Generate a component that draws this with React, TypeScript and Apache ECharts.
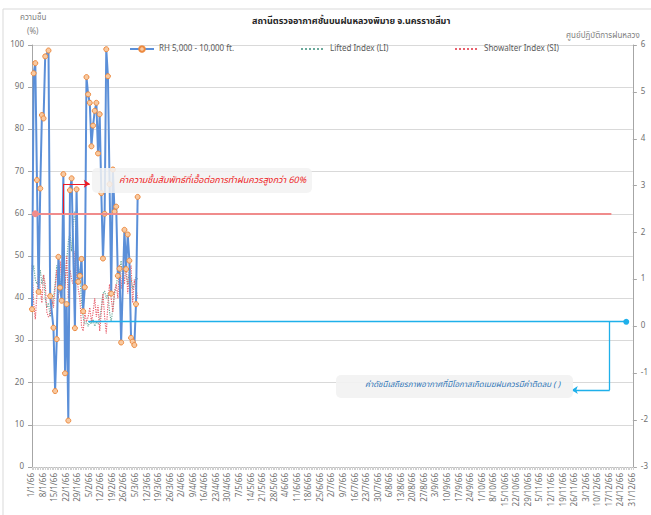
import React, { useEffect, useRef } from "react";
import * as echarts from "echarts";

const TITLE = "สถานีตรวจอากาศชั้นบนฝนหลวงพิมาย จ.นครราชสีมา";
const SUBTITLE = "ศูนย์ปฏิบัติการฝนหลวง";
const LEFT_NAME = "ความชื้น";
const LEFT_UNIT = "(%)";
const RH_NAME = "RH 5,000 - 10,000 ft.";
const LI_NAME = "Lifted Index (LI)";
const SI_NAME = "Showalter Index (SI)";
const NOTE_RH = "ค่าความชื้นสัมพัทธ์ที่เอื้อต่อการทำฝนควรสูงกว่า 60%";
const NOTE_LI = "ค่าดัชนีเสถียรภาพอากาศที่มีโอกาสเกิดเมฆฝนควรมีค่าติดลบ ( )";

// daily categories for year 2566 (2023)
const daysInMonth = [31, 28, 31, 30, 31, 30, 31, 31, 30, 31, 30, 31];
const categories: string[] = [];
daysInMonth.forEach((n, m) => {
  for (let d = 1; d <= n; d++) categories.push(`${d}/${m + 1}/66`);
});

const rh: (number | null)[] = [
  37.4, 93.3, 95.7, 68, 41.5, 66, 83.4, 82.6, 97.3, null,
  98.7, 40.5, null, 33, 18, 30.3, 49.8, 42.5, 39.4, 69.4,
  22.2, 38.6, 11, 65.6, 68.4, null, 32.9, 65.8, 43.9, 45.3,
  49.3, 36.9, 42.6, 92.4, 88.3, 86.3, 76, 80.9, 84.4, 86.3,
  74.3, 83.6, 64.9, 49.4, 60, 99, 92.6, 67, 41.1, 70.5,
  60.5, 61.7, 45.3, 47, 29.5, null, 56.2, 46.9, 55.1, 48.9,
  30.6, 29.7, 28.9, 38.6, 64,
];

const li: number[] = [
  1.1, 1.3, 1.0, 0.9, 0.95, 1.2, 0.9, 1.1, 0.6, 0.4,
  0.5, 0.2, 0.4, 0.6, 0.9, 1.3, 1.1, 0.7, 1.2, 1.6,
  0.9, 1.4, 1.8, 2.0, 1.6, 2.2, 2.46, 1.7, 1.3, 1.1,
  0.5, 0.2, 0.05, 0.1, 0.0, 0.1, 0.05, 0.15, 0.0, 0.1,
  0.05, 0.15, 0.4, 0.7, 0.75, 0.6, 0.7, 0.3, 0.1, 0.4,
  0.7, 0.85, 1.1, 1.2, 1.4, 1.0, 1.3, 1.1, 0.9, 1.2,
  1.0, 0.8, 0.9, 1.05, 1.0,
];

const si: number[] = [
  1.3, 0.5, 0.15, 0.7, 1.2, 0.8, 0.5, 1.1, 0.9, 0.3,
  0.2, 0.25, 0.6, 0.4, 0.8, 1.2, 0.6, 1.4, 1.0, 1.7,
  0.8, 1.5, 0.6, 1.2, 1.0, 0.9, 1.6, 1.1, 0.8, 0.6,
  0.0, -0.1, 0.3, 0.1, 0.2, 0.4, 0.1, 0.3, 0.6, 0.2,
  0.45, -0.1, 0.3, 0.7, 0.2, -0.15, 0.5, 0.9, 0.6, 0.3,
  0.75, 0.9, 0.6, 1.3, 0.8, 1.2, 0.9, 1.4, 0.7, 1.1,
  1.3, 0.5, 1.0, 0.8, 0.6,
];

const RH_THRESHOLD = 60;
const LI_THRESHOLD = 0.1;

const FONT = "'Noto Sans Thai', 'Noto Sans', 'DejaVu Sans', sans-serif";

export default function App() {
  const ref = useRef<HTMLDivElement>(null);
  useEffect(() => {
    if (!ref.current) return;
    const chart = echarts.init(ref.current, null, { renderer: "svg" });
    const legendText = { fontSize: 8, color: "#595959", fontFamily: FONT };
    chart.setOption({
      animation: false,
      backgroundColor: "#ffffff",
      textStyle: { fontFamily: FONT },
      grid: { left: 32, right: 15, top: 45, bottom: 48, containLabel: false },
      legend: [
        { data: [RH_NAME], left: 124, top: 40, itemWidth: 24, itemHeight: 7, textStyle: legendText, itemGap: 0 },
        { data: [LI_NAME], left: 295, top: 40, itemWidth: 24, itemHeight: 4, textStyle: legendText, itemGap: 0, itemStyle: { color: "rgba(0,0,0,0)", borderWidth: 0 } },
        { data: [SI_NAME], left: 449, top: 40, itemWidth: 24, itemHeight: 4, textStyle: legendText, itemGap: 0, itemStyle: { color: "rgba(0,0,0,0)", borderWidth: 0 } },
      ],
      xAxis: {
        type: "category",
        data: categories,
        boundaryGap: false,
        axisLine: { lineStyle: { color: "#bfbfbf" } },
        axisTick: { show: true, interval: 0, length: 3, lineStyle: { color: "#d0d0d0" } },
        axisLabel: { interval: 6, rotate: 90, fontSize: 8, color: "#6f6f6f", margin: 6, fontFamily: FONT },
        splitLine: { show: false },
      },
      yAxis: [
        {
          type: "value", min: 0, max: 100, interval: 10,
          axisLine: { show: true, lineStyle: { color: "#a6a6a6" } },
          axisTick: { show: true, length: 4, lineStyle: { color: "#a6a6a6" } },
          axisLabel: { fontSize: 8, color: "#6f6f6f", margin: 8, fontFamily: FONT },
          splitLine: { lineStyle: { color: "#d9d9d9" } },
        },
        {
          type: "value", min: -3, max: 6, interval: 1, position: "right",
          axisLine: { show: true, lineStyle: { color: "#a6a6a6" } },
          axisTick: { show: true, length: 4, lineStyle: { color: "#a6a6a6" } },
          axisLabel: { fontSize: 8, color: "#6f6f6f", margin: 8, fontFamily: FONT },
          splitLine: { show: false },
        },
      ],
      series: [
        {
          name: LI_NAME, type: "line", yAxisIndex: 1, data: li,
          symbol: "none", lineStyle: { color: "#6aa99b", width: 1.2, type: "dotted" },
          itemStyle: { color: "#6aa99b" }, z: 2,
        },
        {
          name: SI_NAME, type: "line", yAxisIndex: 1, data: si,
          symbol: "none", lineStyle: { color: "#e8616e", width: 1.2, type: "dotted" },
          itemStyle: { color: "#e8616e" }, z: 2,
          markLine: {
            silent: true, symbol: ["none", "none"], animation: false,
            label: { show: false },
            data: [
              [
                { xAxis: 34, yAxis: LI_THRESHOLD, symbol: "none" },
                { xAxis: 360, yAxis: LI_THRESHOLD, symbol: "circle", symbolSize: 6 },
              ],
              [
                { xAxis: 350, yAxis: LI_THRESHOLD, symbol: "none" },
                { xAxis: 350, yAxis: -1.36, symbol: "none" },
              ],
              [
                { xAxis: 350, yAxis: -1.36, symbol: "none" },
                { xAxis: 327, yAxis: -1.36, symbol: "arrow", symbolSize: 6 },
              ],
            ],
            lineStyle: { color: "#1fb0ea", width: 1.3, type: "solid" },
            itemStyle: { color: "#1fb0ea" },
          },
        },
        {
          name: RH_NAME, type: "line", yAxisIndex: 0, data: rh, connectNulls: true,
          symbol: "circle", symbolSize: 5, showAllSymbol: true,
          lineStyle: { color: "#5b8fd8", width: 2 },
          itemStyle: { color: "#f8c9a0", borderColor: "#ed8a3f", borderWidth: 1 },
          z: 3,
          markLine: {
            silent: true, symbol: ["none", "none"], animation: false,
            label: { show: false },
            data: [
              [
                { xAxis: 2, yAxis: RH_THRESHOLD, symbol: "circle", symbolSize: 7, lineStyle: { color: "#f08c8c", width: 2 } },
                { xAxis: 351, yAxis: RH_THRESHOLD, symbol: "none" },
              ],
              [
                { xAxis: 19, yAxis: RH_THRESHOLD, symbol: "none", lineStyle: { color: "#ee1c25", width: 1 } },
                { xAxis: 19, yAxis: 67.1, symbol: "none" },
              ],
              [
                { xAxis: 19, yAxis: 67.1, symbol: "none", lineStyle: { color: "#ee1c25", width: 1 } },
                { xAxis: 35, yAxis: 67.1, symbol: "arrow", symbolSize: 6 },
              ],
            ],
            lineStyle: { color: "#f08c8c", width: 2, type: "solid" },
            itemStyle: { color: "#e8202a" },
          },
        },
      ],
      graphic: [
        { type: "rect", shape: { x: 3, y: 9, width: 660, height: 520 }, style: { fill: "none", stroke: "#d9d9d9", lineWidth: 1 }, silent: true, z: -10 },
        { type: "text", left: 252, top: 16, style: { text: TITLE, fontSize: 9, fontWeight: "bold", fill: "#262626", fontFamily: FONT } },
        { type: "text", left: 566, top: 32, style: { text: SUBTITLE, fontSize: 8, fill: "#7f7f7f", fontFamily: FONT } },
        { type: "text", left: 20, top: 14, style: { text: LEFT_NAME, fontSize: 8, fill: "#7f7f7f", fontFamily: FONT } },
        { type: "text", left: 27, top: 28, style: { text: LEFT_UNIT, fontSize: 8, fill: "#7f7f7f", fontFamily: FONT } },
        { type: "rect", shape: { x: 92, y: 168, width: 220, height: 25, r: 5 }, style: { fill: "rgba(242,242,242,0.85)", stroke: "none" }, z: 10 },
        { type: "text", left: 119, top: 175, z: 11, style: { text: NOTE_RH, fontSize: 9, fontStyle: "italic", fill: "#ee1c25", fontFamily: FONT } },
        { type: "rect", shape: { x: 336, y: 375, width: 237, height: 23, r: 5 }, style: { fill: "rgba(242,242,242,0.9)", stroke: "none" }, z: 10 },
        { type: "text", left: 365, top: 381, z: 11, style: { text: NOTE_LI, fontSize: 8, fontStyle: "italic", fill: "#2e75b6", fontFamily: FONT } },
      ],
    });
    return () => chart.dispose();
  }, []);
  return <div ref={ref} style={{ position: "absolute", left: 0, top: 0, width: 651, height: 515 }} />;
}
